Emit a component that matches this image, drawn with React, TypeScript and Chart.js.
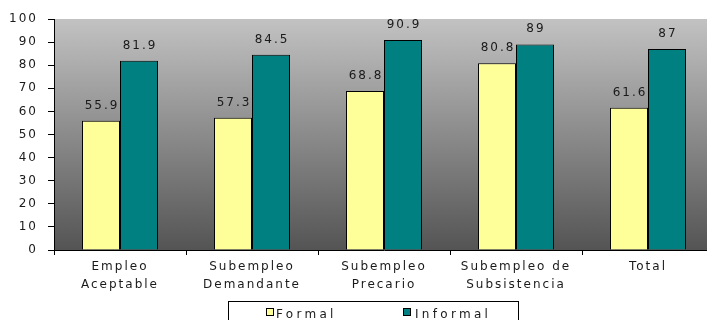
import React, { useEffect, useRef } from "react";
import { Chart, registerables } from "chart.js";

Chart.register(...registerables);

const categories: (string | string[])[] = [
  ["Empleo", "Aceptable"],
  ["Subempleo", "Demandante"],
  ["Subempleo", "Precario"],
  ["Subempleo de", "Subsistencia"],
  "Total",
];
const formal = [55.9, 57.3, 68.8, 80.8, 61.6];
const informal = [81.9, 84.5, 90.9, 89, 87];
const seriesNames = ["Formal", "Informal"];
const yTicks = [0, 10, 20, 30, 40, 50, 60, 70, 80, 90, 100];

const FONT = "'DejaVu Sans', Verdana, sans-serif";
const YELLOW = "#FFFF99";
const TEAL = "#008080";

const bgPlugin = {
  id: "bgGrad",
  beforeDraw(chart: any) {
    const { ctx, chartArea } = chart;
    ctx.letterSpacing = "2px";
    if (!chartArea) return;
    ctx.save();
    const g = ctx.createLinearGradient(0, chartArea.top, 0, chartArea.bottom);
    g.addColorStop(0, "#c2c2c2");
    g.addColorStop(1, "#545454");
    ctx.fillStyle = g;
    ctx.fillRect(chartArea.left, chartArea.top, chartArea.right - chartArea.left, chartArea.bottom - chartArea.top);
    ctx.restore();
  },
};

const labelPlugin = {
  id: "valueLabels",
  afterDatasetsDraw(chart: any) {
    const { ctx } = chart;
    ctx.save();
    ctx.font = `12px ${FONT}`;
    ctx.letterSpacing = "2px";
    ctx.fillStyle = "#1a1a1a";
    ctx.textAlign = "center";
    ctx.textBaseline = "alphabetic";
    chart.data.datasets.forEach((ds: any, i: number) => {
      const meta = chart.getDatasetMeta(i);
      meta.data.forEach((el: any, j: number) => {
        ctx.fillText(String(ds.data[j]), el.x + 1, el.y - 12);
      });
    });
    ctx.restore();
  },
};

const legendPlugin = {
  id: "boxLegend",
  afterDraw(chart: any) {
    const { ctx } = chart;
    ctx.save();
    ctx.fillStyle = "#ffffff";
    ctx.fillRect(228.5, 301.5, 290, 30);
    ctx.strokeStyle = "#000";
    ctx.lineWidth = 1;
    ctx.strokeRect(228.5, 301.5, 290, 30);
    const items = [
      { x: 266, tx: 276, color: YELLOW, name: seriesNames[0] },
      { x: 403, tx: 415, color: TEAL, name: seriesNames[1] },
    ];
    ctx.font = `12px ${FONT}`;
    ctx.letterSpacing = "3.3px";
    ctx.textAlign = "left";
    ctx.textBaseline = "alphabetic";
    items.forEach((it) => {
      ctx.fillStyle = it.color;
      ctx.fillRect(it.x + 0.5, 308.5, 7, 7);
      ctx.strokeRect(it.x + 0.5, 308.5, 7, 7);
      ctx.fillStyle = "#1a1a1a";
      ctx.fillText(it.name, it.tx, 318);
    });
    ctx.restore();
  },
};

export default function App() {
  const ref = useRef<HTMLCanvasElement | null>(null);
  useEffect(() => {
    if (!ref.current) return;
    const chart = new Chart(ref.current, {
      type: "bar",
      data: {
        labels: categories,
        datasets: [
          {
            label: seriesNames[0],
            data: formal,
            backgroundColor: YELLOW,
            borderColor: "#000",
            borderWidth: 1,
            categoryPercentage: 0.576,
            barPercentage: 1,
          },
          {
            label: seriesNames[1],
            data: informal,
            backgroundColor: TEAL,
            borderColor: "#000",
            borderWidth: 1,
            categoryPercentage: 0.576,
            barPercentage: 1,
          },
        ],
      },
      options: {
        responsive: false,
        animation: false,
        devicePixelRatio: 1,
        layout: { padding: { top: 19, left: 0, right: 0, bottom: 0 } },
        plugins: {
          legend: { display: false },
          tooltip: { enabled: false },
        },
        scales: {
          x: {
            grid: {
              display: true,
              drawOnChartArea: false,
              drawTicks: true,
              tickLength: 5,
              color: "#000",
              offset: true,
            },
            border: { display: true, color: "#000", width: 1 },
            ticks: {
              color: "#1a1a1a",
              font: { family: FONT, size: 12, lineHeight: 1.5 },
              padding: 3,
              maxRotation: 0,
              autoSkip: false,
            },
            afterFit(scale: any) {
              scale.height = 70;
            },
          },
          y: {
            min: 0,
            max: 100,
            afterBuildTicks(scale: any) {
              scale.ticks = yTicks.map((v) => ({ value: v }));
            },
            grid: {
              display: true,
              drawOnChartArea: false,
              drawTicks: true,
              tickLength: 6,
              color: "#000",
            },
            border: { display: true, color: "#000", width: 1 },
            ticks: {
              color: "#1a1a1a",
              font: { family: FONT, size: 12 },
              padding: 10,
            },
            afterFit(scale: any) {
              scale.width = 54;
            },
          },
        },
      },
      plugins: [bgPlugin, labelPlugin, legendPlugin],
    });
    return () => chart.destroy();
  }, []);

  return (
    <div
      style={{
        position: "fixed",
        left: 0,
        top: 0,
        width: 707,
        height: 320,
        overflow: "hidden",
        background: "#fff",
      }}
    >
      <canvas ref={ref} width={714} height={320} style={{ width: 714, height: 320, display: "block" }} />
    </div>
  );
}
